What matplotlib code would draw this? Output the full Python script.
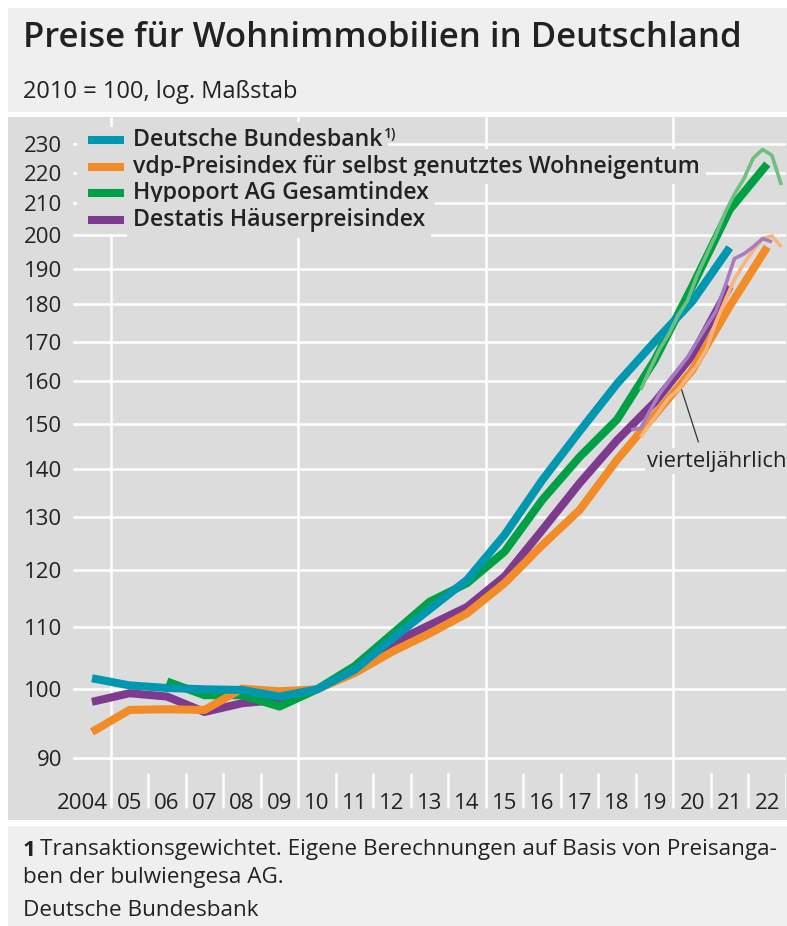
import matplotlib.pyplot as plt
from matplotlib.patches import Rectangle
from matplotlib.lines import Line2D
from matplotlib.ticker import NullLocator

W, H = 787, 926

# ---------------------------------------------------------------
# Data (annual values plotted at mid-year, quarterly at mid-quarter)
# ---------------------------------------------------------------
years_bbk = list(range(2004, 2022))
bundesbank = [101.7, 100.6, 100.2, 100.0, 99.9, 98.9, 100.0, 103.0, 108.0,
              113.0, 118.2, 126.6, 137.6, 148.3, 159.5, 170.0, 180.8, 196.3]

years_vdp = list(range(2004, 2023))
vdp = [93.7, 96.9, 97.0, 96.9, 100.1, 99.7, 100.0, 102.5, 105.9, 108.9,
       112.3, 117.6, 124.6, 131.5, 142.0, 152.0, 162.8, 179.5, 196.5]

years_hyp = list(range(2006, 2023))
hypoport = [101.2, 99.1, 99.1, 97.4, 100.0, 103.6, 108.8, 114.3, 117.6,
            123.4, 133.5, 142.6, 151.0, 165.3, 185.0, 208.0, 223.0]

years_dst = list(range(2004, 2022))
destatis = [98.1, 99.4, 98.9, 96.6, 97.9, 98.4, 100.0, 102.8, 107.3, 110.3,
            113.4, 118.8, 127.5, 137.0, 146.3, 155.0, 166.5, 185.0]

# quarterly series
q_hyp = [(2019, 1), (2019, 2), (2019, 3), (2019, 4), (2020, 1), (2020, 2), (2020, 3), (2020, 4),
         (2021, 1), (2021, 2), (2021, 3), (2021, 4), (2022, 1), (2022, 2), (2022, 3), (2022, 4)]
hypoport_q = [158, 163, 168, 172, 177, 181, 188, 194, 200, 207, 213, 218, 225, 228, 226, 216]

q_vdp = q_hyp
vdp_q = [147, 150, 153, 156, 158, 161, 164, 168, 175, 181, 187, 191.5, 195.5, 199, 199.8, 196.5]

q_dst = [(2018, 4), (2019, 1), (2019, 2), (2019, 3), (2019, 4), (2020, 1), (2020, 2), (2020, 3),
         (2020, 4), (2021, 1), (2021, 2), (2021, 3), (2021, 4), (2022, 1), (2022, 2), (2022, 3)]
destatis_q = [148.6, 149, 153, 157, 160, 163, 166, 170, 174, 178, 185, 193, 194.4, 196.5, 199, 198]

yticks = list(range(90, 240, 10))
xlabels = ["2004"] + ["%02d" % (y % 100) for y in range(2005, 2023)]

# colours
PANEL = "#dcdcdc"
BAND = "#efefef"
C_BBK = "#0097b0"
C_VDP = "#f28c28"
C_HYP = "#00a046"
C_DST = "#7d3a8e"
C_HYP_Q = "#6fc07f"
C_VDP_Q = "#f8b47c"
C_DST_Q = "#a87cc0"
TXT = "#222222"

FONT = "Open Sans"
plt.rcParams['font.family'] = [FONT, 'DejaVu Sans']


def fx(x):
    return x / W


def fy(y):
    return 1 - y / H


def mid(years):
    return [y + 0.5 for y in years]


def qmid(qs):
    return [y + (q - 0.5) / 4 for y, q in qs]


fig = plt.figure(figsize=(W / 100, H / 100), dpi=100)
fig.patch.set_facecolor("white")

# background bands (behind the axes)
for y0, y1, col in [(8, 112, BAND), (117, 820, PANEL), (826, 926, BAND)]:
    fig.patches.append(Rectangle((fx(8), fy(y1)), 1, (y1 - y0) / H, transform=fig.transFigure,
                                 facecolor=col, edgecolor="none", zorder=-5))

# axes
ax = fig.add_axes([fx(73.2), fy(820), (786 - 73.2) / W, (820 - 117) / H])
ax.set_facecolor("none")
ax.set_zorder(1)
ax.set_yscale("log")
ax.set_xlim(2004, 2023)
ax.set_ylim(81.91, 239.6)
for s in ax.spines.values():
    s.set_visible(False)

ax.yaxis.set_minor_locator(NullLocator())
ax.set_yticks(yticks)
ax.set_yticklabels([str(v) for v in yticks])
ax.tick_params(axis="y", direction="in", length=3, width=1.8, color="white",
               pad=8, labelsize=16, labelcolor=TXT)
ax.set_xticks([])

# grid
ax.hlines(yticks, 2004, 2023, color="white", lw=1.8, zorder=1)
ax.vlines([2005, 2010, 2015, 2020], 83.4, 239.6, color="white", lw=1.8, zorder=1)
ax.vlines([y for y in range(2006, 2024) if y not in (2010, 2015, 2020)], 83.4, 88.0,
          color="white", lw=1.8, zorder=1)

# x labels
for i, lab in enumerate(xlabels):
    if i == 0:
        ax.text(2004.92, 83.3, lab, ha="right", va="baseline", fontsize=16, color=TXT)
    else:
        ax.text(2004 + i + 0.5, 83.3, lab, ha="center", va="baseline", fontsize=16, color=TXT)

# series
kw = dict(solid_capstyle="butt", solid_joinstyle="round")
ax.plot(mid(years_dst), destatis, color=C_DST, lw=5.8, zorder=3, **kw)
ax.plot(mid(years_hyp), hypoport, color=C_HYP, lw=5.8, zorder=3, **kw)
ax.plot(mid(years_vdp), vdp, color=C_VDP, lw=5.8, zorder=3, **kw)
ax.plot(mid(years_bbk), bundesbank, color=C_BBK, lw=5.8, zorder=3, **kw)
ax.plot(qmid(q_hyp), hypoport_q, color=C_HYP_Q, lw=2.6, zorder=4, **kw)
ax.plot(qmid(q_vdp), vdp_q, color=C_VDP_Q, lw=2.6, zorder=4, **kw)
ax.plot(qmid(q_dst), destatis_q, color=C_DST_Q, lw=2.6, zorder=4, **kw)

# legend
ax.add_patch(Rectangle((fx(77), fy(234)), (133 - 77) / W, (234 - 127) / H,
                       transform=fig.transFigure, facecolor=PANEL, edgecolor="none", zorder=2))
legend_items = [("Deutsche Bundesbank", C_BBK), ("vdp-Preisindex für selbst genutztes Wohneigentum", C_VDP),
                ("Hypoport AG Gesamtindex", C_HYP), ("Destatis Häuserpreisindex", C_DST)]
rows = [140, 166.7, 193.3, 220]
for (lab, col), yr in zip(legend_items, rows):
    ax.add_line(Line2D([fx(88), fx(124)], [fy(yr), fy(yr)], transform=fig.transFigure,
                       color=col, lw=5.8, solid_capstyle="butt", zorder=5))
    t = ax.text(fx(133), fy(yr), lab, transform=fig.transFigure, ha="left", va="center",
                fontsize=16.7, fontweight="semibold", color=TXT, zorder=5,
                bbox=dict(boxstyle="square,pad=0.25", facecolor=PANEL, edgecolor="none"))
    if lab == "Deutsche Bundesbank":
        ax.annotate("1)", xy=(1, 1), xycoords=t, xytext=(1, 1), textcoords="offset points",
                    ha="left", va="top", fontsize=10, fontweight="semibold", color=TXT, zorder=5)

# annotation
ax.add_line(Line2D([fx(698.3), fx(681.7)], [fy(441.7), fy(390)], transform=fig.transFigure,
                   color="#333333", lw=0.9, zorder=6))
ax.text(fx(647), fy(461), "vierteljährlich", transform=fig.transFigure, ha="left", va="center",
        fontsize=15.8, color=TXT, zorder=6,
        bbox=dict(boxstyle="square,pad=0.1", facecolor=PANEL, edgecolor="none"))

# titles
fig.text(fx(23), fy(38), "Preise für Wohnimmobilien in Deutschland", ha="left", va="center",
         fontsize=25, fontweight="semibold", color=TXT)
fig.text(fx(23), fy(92), "2010 = 100, log. Maßstab", ha="left", va="center", fontsize=17, color=TXT)

# footnote
fig.text(fx(23), fy(850), "1", ha="left", va="center", fontsize=16.2, fontweight="bold", color=TXT)
fig.text(fx(40), fy(850), "Transaktionsgewichtet. Eigene Berechnungen auf Basis von Preisanga-",
         ha="left", va="center", fontsize=16.2, color=TXT)
fig.text(fx(23), fy(877), "ben der bulwiengesa AG.", ha="left", va="center", fontsize=16.2, color=TXT)
fig.text(fx(23), fy(911), "Deutsche Bundesbank", ha="left", va="center", fontsize=16.2, color=TXT)

fig.savefig("out.png", dpi=100)
